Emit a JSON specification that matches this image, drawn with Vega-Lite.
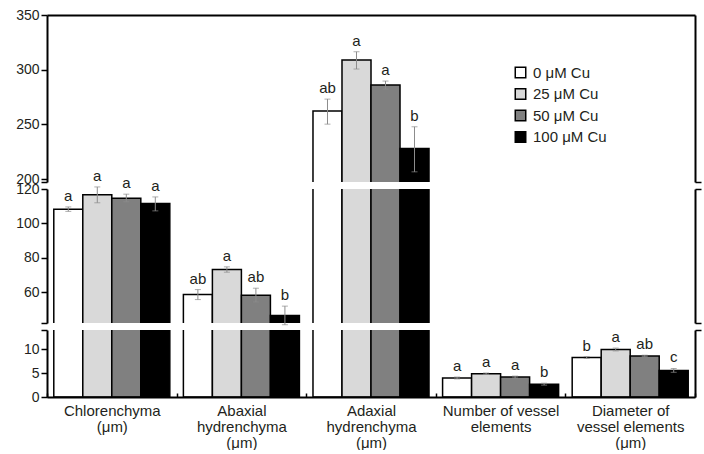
{
  "$schema": "https://vega.github.io/schema/vega-lite/v6.json",
  "padding": {"left": 7, "top": 8, "right": 0, "bottom": 0},
  "bounds": "flush",
  "spacing": 7,
  "config": {
    "font": "Liberation Sans",
    "view": {"stroke": null},
    "axis": {"labelFontSize": 14, "labelColor": "#231f20", "domainColor": "black", "tickColor": "black", "domainWidth": 2, "tickWidth": 1.5, "grid": false, "title": null, "labelFont": "Liberation Sans"},
    "legend": {"labelFont": "Liberation Sans", "labelFontSize": 15, "labelColor": "#231f20"}
  },
  "data": {"values": [
    {"group": "Chlorenchyma|(μm)", "treatment": "0 μM Cu", "mean": 108.3, "lo": 107.0, "hi": 109.6, "letter": "a"},
    {"group": "Chlorenchyma|(μm)", "treatment": "25 μM Cu", "mean": 116.7, "lo": 112.0, "hi": 121.2, "letter": "a"},
    {"group": "Chlorenchyma|(μm)", "treatment": "50 μM Cu", "mean": 114.7, "lo": 112.6, "hi": 117.0, "letter": "a"},
    {"group": "Chlorenchyma|(μm)", "treatment": "100 μM Cu", "mean": 111.6, "lo": 107.3, "hi": 115.4, "letter": "a"},
    {"group": "Abaxial|hydrenchyma|(μm)", "treatment": "0 μM Cu", "mean": 58.7, "lo": 55.8, "hi": 61.6, "letter": "ab"},
    {"group": "Abaxial|hydrenchyma|(μm)", "treatment": "25 μM Cu", "mean": 73.3, "lo": 71.7, "hi": 74.8, "letter": "a"},
    {"group": "Abaxial|hydrenchyma|(μm)", "treatment": "50 μM Cu", "mean": 58.3, "lo": 54.4, "hi": 62.4, "letter": "ab"},
    {"group": "Abaxial|hydrenchyma|(μm)", "treatment": "100 μM Cu", "mean": 46.6, "lo": 41.2, "hi": 52.0, "letter": "b"},
    {"group": "Adaxial|hydrenchyma|(μm)", "treatment": "0 μM Cu", "mean": 262.2, "lo": 250.2, "hi": 273.1, "letter": "ab"},
    {"group": "Adaxial|hydrenchyma|(μm)", "treatment": "25 μM Cu", "mean": 308.8, "lo": 300.6, "hi": 316.4, "letter": "a"},
    {"group": "Adaxial|hydrenchyma|(μm)", "treatment": "50 μM Cu", "mean": 286.0, "lo": 282.2, "hi": 289.6, "letter": "a"},
    {"group": "Adaxial|hydrenchyma|(μm)", "treatment": "100 μM Cu", "mean": 228.0, "lo": 206.6, "hi": 247.8, "letter": "b"},
    {"group": "Number of vessel|elements", "treatment": "0 μM Cu", "mean": 4.0, "lo": 3.8, "hi": 4.2, "letter": "a"},
    {"group": "Number of vessel|elements", "treatment": "25 μM Cu", "mean": 4.9, "lo": 4.75, "hi": 5.05, "letter": "a"},
    {"group": "Number of vessel|elements", "treatment": "50 μM Cu", "mean": 4.2, "lo": 4.0, "hi": 4.4, "letter": "a"},
    {"group": "Number of vessel|elements", "treatment": "100 μM Cu", "mean": 2.7, "lo": 2.5, "hi": 2.9, "letter": "b"},
    {"group": "Diameter of|vessel elements|(μm)", "treatment": "0 μM Cu", "mean": 8.3, "lo": 8.1, "hi": 8.5, "letter": "b"},
    {"group": "Diameter of|vessel elements|(μm)", "treatment": "25 μM Cu", "mean": 10.0, "lo": 9.7, "hi": 10.3, "letter": "a"},
    {"group": "Diameter of|vessel elements|(μm)", "treatment": "50 μM Cu", "mean": 8.65, "lo": 8.5, "hi": 8.8, "letter": "ab"},
    {"group": "Diameter of|vessel elements|(μm)", "treatment": "100 μM Cu", "mean": 5.6, "lo": 5.2, "hi": 6.0, "letter": "c"}
  ]},
  "resolve": {"scale": {"y": "independent"}, "legend": {"fill": "independent"}},
  "vconcat": [
    {
      "width": 648, "height": 167,
      "encoding": {
        "x": {"field": "group", "type": "nominal", "scale": {"domain": ["Chlorenchyma|(μm)", "Abaxial|hydrenchyma|(μm)", "Adaxial|hydrenchyma|(μm)", "Number of vessel|elements", "Diameter of|vessel elements|(μm)"], "paddingInner": 0, "paddingOuter": 0}, "axis": {"orient": "top", "labels": false, "ticks": false, "domainWidth": 2}},
        "xOffset": {"field": "treatment", "type": "nominal", "scale": {"domain": ["0 μM Cu", "25 μM Cu", "50 μM Cu", "100 μM Cu"], "paddingInner": 0, "paddingOuter": 0.234}}
      },
      "layer": [
        {
          "mark": {"type": "bar", "clip": true, "stroke": "black", "strokeWidth": 1.5},
          "encoding": {
            "y": {"field": "mean", "type": "quantitative", "scale": {"domain": [197.3, 350], "nice": false, "zero": false}, "axis": {"orient": "left", "values": [197.3, 200, 250, 300, 350], "labelExpr": "datum.value % 1 ? '' : datum.label", "tickSize": 6, "labelPadding": 2, "minExtent": 40, "maxExtent": 40}},
            "fill": {"field": "treatment", "type": "nominal", "scale": {"domain": ["0 μM Cu", "25 μM Cu", "50 μM Cu", "100 μM Cu"], "range": ["#ffffff", "#d9d9d9", "#808080", "#000000"]}, "legend": {"orient": "none", "legendX": 466, "legendY": 50, "title": null, "symbolType": "square", "symbolSize": 110, "symbolStrokeColor": "black", "symbolStrokeWidth": 1.5, "symbolOpacity": 1, "rowPadding": 4.5, "labelOffset": 5}}
          }
        },
        {
          "transform": [{"filter": "datum.mean > 197"}],
          "mark": {"type": "rule", "color": "#8c8c8c", "strokeWidth": 1},
          "encoding": {"y": {"field": "lo", "type": "quantitative", "axis": null}, "y2": {"field": "hi"}}
        },
        {
          "transform": [{"filter": "datum.mean > 197"}],
          "mark": {"type": "tick", "color": "#8c8c8c", "size": 6, "thickness": 1},
          "encoding": {"y": {"field": "lo", "type": "quantitative", "axis": null}}
        },
        {
          "transform": [{"filter": "datum.mean > 197"}],
          "mark": {"type": "tick", "color": "#8c8c8c", "size": 6, "thickness": 1},
          "encoding": {"y": {"field": "hi", "type": "quantitative", "axis": null}}
        },
        {
          "transform": [{"filter": "datum.mean > 197"}],
          "mark": {"type": "text", "baseline": "bottom", "dy": -3, "fontSize": 15, "color": "#231f20"},
          "encoding": {
            "y": {"field": "hi", "type": "quantitative", "axis": {"orient": "right", "values": [197.3], "labels": false, "tickSize": 6}},
            "text": {"field": "letter"}
          }
        }
      ],
      "resolve": {"axis": {"y": "independent"}}
    },
    {
      "width": 648, "height": 134,
      "encoding": {
        "x": {"field": "group", "type": "nominal", "scale": {"domain": ["Chlorenchyma|(μm)", "Abaxial|hydrenchyma|(μm)", "Adaxial|hydrenchyma|(μm)", "Number of vessel|elements", "Diameter of|vessel elements|(μm)"], "paddingInner": 0, "paddingOuter": 0}, "axis": null},
        "xOffset": {"field": "treatment", "type": "nominal", "scale": {"domain": ["0 μM Cu", "25 μM Cu", "50 μM Cu", "100 μM Cu"], "paddingInner": 0, "paddingOuter": 0.234}}
      },
      "layer": [
        {
          "mark": {"type": "bar", "clip": true, "stroke": "black", "strokeWidth": 1.5},
          "encoding": {
            "y": {"field": "mean", "type": "quantitative", "scale": {"domain": [42.2, 120], "nice": false, "zero": false}, "axis": {"orient": "left", "values": [42.2, 60, 80, 100, 120], "labelExpr": "datum.value % 1 ? '' : datum.label", "tickSize": 6, "labelPadding": 2, "minExtent": 40, "maxExtent": 40}},
            "fill": {"field": "treatment", "type": "nominal", "scale": {"domain": ["0 μM Cu", "25 μM Cu", "50 μM Cu", "100 μM Cu"], "range": ["#ffffff", "#d9d9d9", "#808080", "#000000"]}, "legend": null}
          }
        },
        {
          "transform": [{"filter": "datum.mean > 40 && datum.mean < 197"}],
          "mark": {"type": "rule", "color": "#8c8c8c", "strokeWidth": 1},
          "encoding": {"y": {"field": "lo", "type": "quantitative", "axis": null}, "y2": {"field": "hi"}}
        },
        {
          "transform": [{"filter": "datum.mean > 40 && datum.mean < 197"}],
          "mark": {"type": "tick", "color": "#8c8c8c", "size": 6, "thickness": 1},
          "encoding": {"y": {"field": "lo", "type": "quantitative", "axis": null}}
        },
        {
          "transform": [{"filter": "datum.mean > 40 && datum.mean < 197"}],
          "mark": {"type": "tick", "color": "#8c8c8c", "size": 6, "thickness": 1},
          "encoding": {"y": {"field": "hi", "type": "quantitative", "axis": null}}
        },
        {
          "transform": [{"filter": "datum.mean > 40 && datum.mean < 197"}],
          "mark": {"type": "text", "baseline": "bottom", "dy": -3, "fontSize": 15, "color": "#231f20"},
          "encoding": {
            "y": {"field": "hi", "type": "quantitative", "axis": {"orient": "right", "values": [42.2, 120], "labels": false, "tickSize": 6}},
            "text": {"field": "letter"}
          }
        }
      ],
      "resolve": {"axis": {"y": "independent"}}
    },
    {
      "width": 648, "height": 67,
      "encoding": {
        "x": {"field": "group", "type": "nominal", "scale": {"domain": ["Chlorenchyma|(μm)", "Abaxial|hydrenchyma|(μm)", "Adaxial|hydrenchyma|(μm)", "Number of vessel|elements", "Diameter of|vessel elements|(μm)"], "paddingInner": 0, "paddingOuter": 0}, "axis": {"orient": "bottom", "labelExpr": "split(datum.label, '|')", "labelAngle": 0, "labelFontSize": 15, "tickBand": "extent", "tickSize": -4, "tickWidth": 1.5, "labelPadding": 10, "labelLineHeight": 16, "domainWidth": 2, "zindex": 1}},
        "xOffset": {"field": "treatment", "type": "nominal", "scale": {"domain": ["0 μM Cu", "25 μM Cu", "50 μM Cu", "100 μM Cu"], "paddingInner": 0, "paddingOuter": 0.234}}
      },
      "layer": [
        {
          "mark": {"type": "bar", "clip": true, "stroke": "black", "strokeWidth": 1.5},
          "encoding": {
            "y": {"field": "mean", "type": "quantitative", "scale": {"domain": [0, 14.1], "nice": false}, "axis": {"orient": "left", "values": [0, 5, 10, 14.1], "labelExpr": "datum.value % 1 ? '' : datum.label", "tickSize": 6, "labelPadding": 2, "minExtent": 40, "maxExtent": 40}},
            "fill": {"field": "treatment", "type": "nominal", "scale": {"domain": ["0 μM Cu", "25 μM Cu", "50 μM Cu", "100 μM Cu"], "range": ["#ffffff", "#d9d9d9", "#808080", "#000000"]}, "legend": null}
          }
        },
        {
          "transform": [{"filter": "datum.mean < 14"}],
          "mark": {"type": "rule", "color": "#8c8c8c", "strokeWidth": 1},
          "encoding": {"y": {"field": "lo", "type": "quantitative", "axis": null}, "y2": {"field": "hi"}}
        },
        {
          "transform": [{"filter": "datum.mean < 14"}],
          "mark": {"type": "tick", "color": "#8c8c8c", "size": 6, "thickness": 1},
          "encoding": {"y": {"field": "lo", "type": "quantitative", "axis": null}}
        },
        {
          "transform": [{"filter": "datum.mean < 14"}],
          "mark": {"type": "tick", "color": "#8c8c8c", "size": 6, "thickness": 1},
          "encoding": {"y": {"field": "hi", "type": "quantitative", "axis": null}}
        },
        {
          "transform": [{"filter": "datum.mean < 14"}],
          "mark": {"type": "text", "baseline": "bottom", "dy": -3, "fontSize": 15, "color": "#231f20"},
          "encoding": {
            "y": {"field": "hi", "type": "quantitative", "axis": {"orient": "right", "values": [14.1], "labels": false, "tickSize": 6}},
            "text": {"field": "letter"}
          }
        }
      ],
      "resolve": {"axis": {"y": "independent"}}
    }
  ]
}
